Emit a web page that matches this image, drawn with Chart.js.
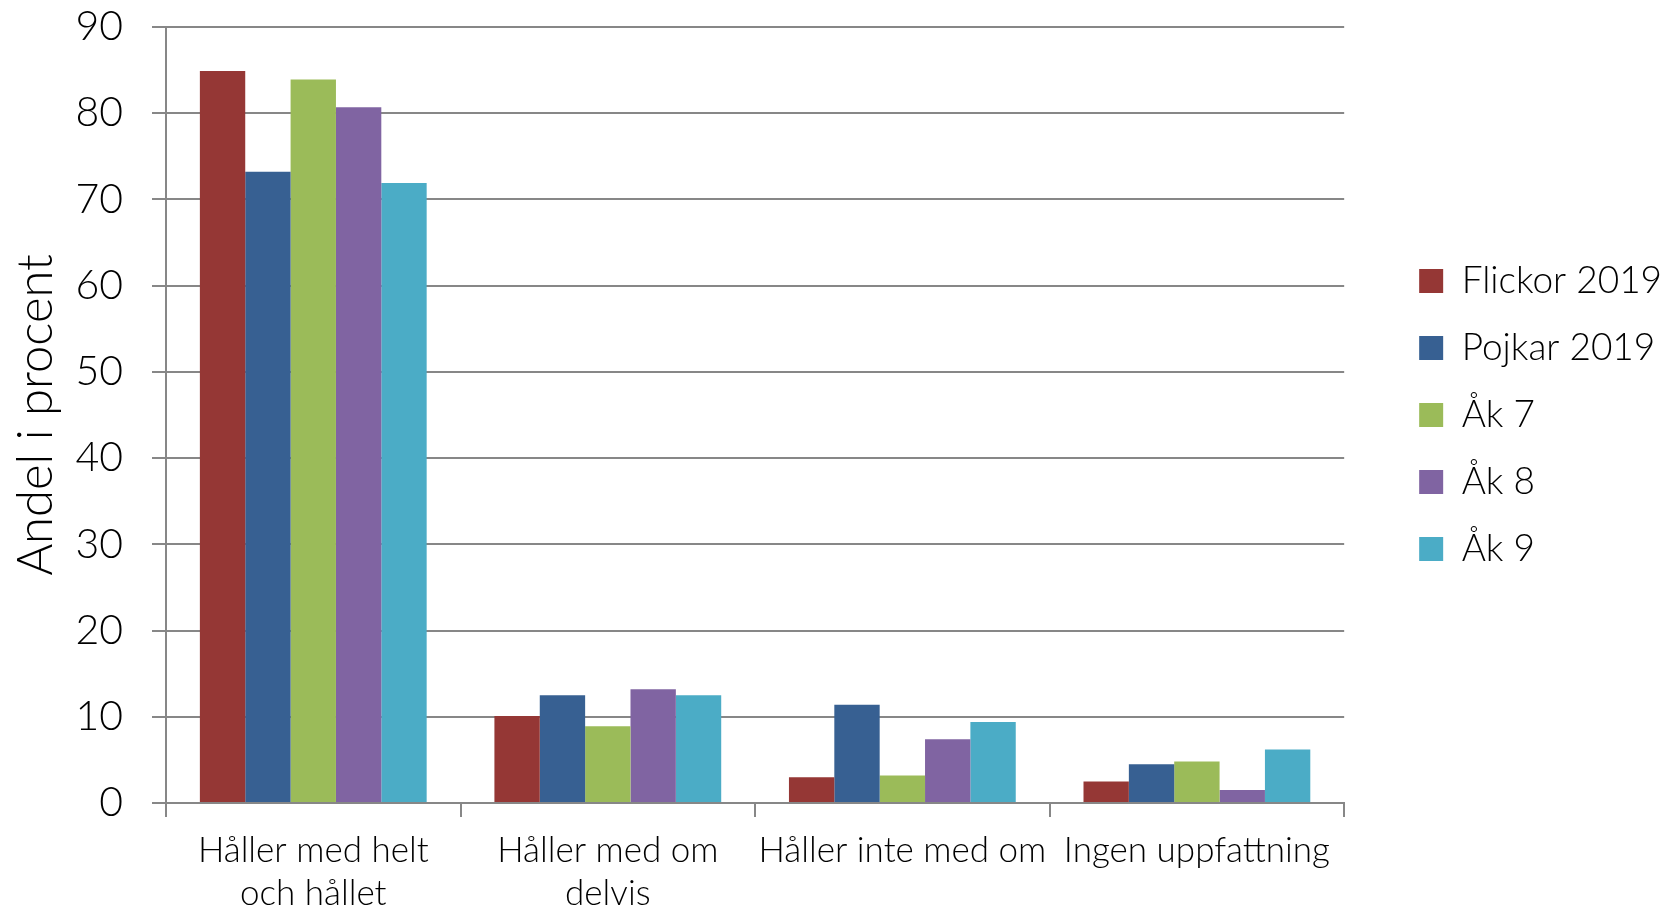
<!DOCTYPE html>
<html>
<head>
<meta charset="utf-8">
<script src="https://cdn.jsdelivr.net/npm/chart.js@4.4.1/dist/chart.umd.min.js"></script>
<style>
  html, body { margin: 0; padding: 0; background: #ffffff; }
  #wrap { width: 1677px; height: 912px; position: relative; }
</style>
</head>
<body>
<div id="wrap"><canvas id="c" width="1677" height="912"></canvas></div>
<script>
const categories = [["Håller med helt", "och hållet"], ["Håller med om", "delvis"], "Håller inte med om", "Ingen uppfattning"];
const seriesNames = ["Flickor 2019", "Pojkar 2019", "Åk 7", "Åk 8", "Åk 9"];
const flickor2019 = [84.9, 10.1, 3.0, 2.5];
const pojkar2019 = [73.2, 12.5, 11.4, 4.5];
const ak7 = [83.9, 8.9, 3.2, 4.8];
const ak8 = [80.7, 13.2, 7.4, 1.5];
const ak9 = [71.9, 12.5, 9.4, 6.2];
const yTicks = [0, 10, 20, 30, 40, 50, 60, 70, 80, 90];

const colors = ["#953735", "#376092", "#9BBB59", "#8064A2", "#4BACC6"];
const seriesValues = [flickor2019, pojkar2019, ak7, ak8, ak9];

const gridColor = "#878787";

const datasets = seriesNames.map((name, i) => ({
  label: name,
  data: seriesValues[i],
  backgroundColor: colors[i],
  borderWidth: 0,
  categoryPercentage: 0.77,
  barPercentage: 1.0
}));

new Chart(document.getElementById("c"), {
  type: "bar",
  data: { labels: categories, datasets: datasets },
  options: {
    responsive: false,
    animation: false,
    layout: { padding: { top: 27, right: 10, bottom: 0, left: 0 } },
    plugins: {
      tooltip: { enabled: false },
      legend: {
        position: "right",
        fullSize: false,
        align: "center",
        labels: {
          boxWidth: 24,
          boxHeight: 24,
          padding: 30,
          color: "#000000",
          font: { family: "Lato", size: 37, weight: "300" }
        }
      }
    },
    scales: {
      x: {
        type: "category",
        offset: true,
        grid: {
          display: true,
          offset: true,
          drawOnChartArea: false,
          drawTicks: true,
          tickLength: 14,
          color: gridColor,
          lineWidth: 2
        },
        border: { display: true, color: gridColor, width: 2 },
        ticks: {
          color: "#000000",
          padding: 12,
          maxRotation: 0,
          autoSkip: false,
          font: { family: "Lato", size: 35, weight: "300", lineHeight: 1.24 }
        },
        afterFit: (s) => { s.height = 109; s.paddingLeft = 0; s.paddingRight = 0; }
      },
      y: {
        min: 0,
        max: 90,
        afterBuildTicks: (s) => { s.ticks = yTicks.map(v => ({ value: v })); },
        grid: {
          color: gridColor,
          lineWidth: 2,
          drawTicks: true,
          tickLength: 14
        },
        border: { display: true, color: gridColor, width: 2 },
        ticks: {
          color: "#000000",
          padding: 29,
          font: { family: "Lato", size: 41, weight: "300" }
        },
        title: {
          display: true,
          text: "Andel i procent",
          color: "#000000",
          padding: { top: 7, bottom: 0 },
          font: { family: "Lato", size: 49, weight: "300" }
        },
        afterFit: (s) => { s.width = 166; s.paddingTop = 0; s.paddingBottom = 0; }
      },
      yRight: {
        position: "right",
        display: true,
        min: 0,
        max: 90,
        grid: { display: false, drawTicks: false },
        border: { display: false },
        ticks: { display: false },
        afterFit: (s) => { s.width = 45; s.paddingTop = 0; s.paddingBottom = 0; }
      }
    }
  }
});
</script>
</body>
</html>
